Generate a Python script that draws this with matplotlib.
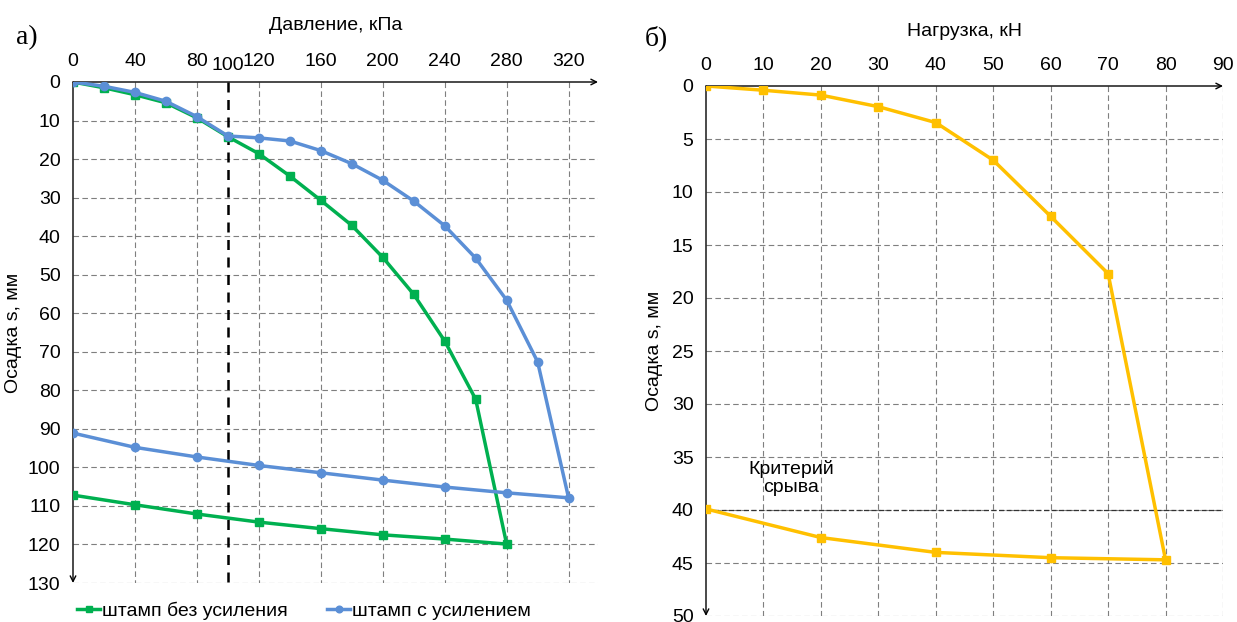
import numpy as np
import matplotlib.pyplot as plt

plt.rcParams['font.family'] = ['Liberation Sans', 'DejaVu Sans']

# panel a: pressure (kPa) vs settlement (mm)
p_plain = [0, 20, 40, 60, 80, 100, 120, 140, 160, 180, 200, 220, 240, 260, 280,
           240, 200, 160, 120, 80, 40, 0]
s_plain = [0, 1.5, 3.3, 5.4, 9.3, 14.2, 18.6, 24.4, 30.7, 37.2, 45.5, 55.1, 67.2, 82.3, 119.9,
           118.6, 117.5, 115.9, 114.2, 112.1, 109.7, 107.2]

p_reinf = [0, 20, 40, 60, 80, 100, 120, 140, 160, 180, 200, 220, 240, 260, 280, 300, 320,
           280, 240, 200, 160, 120, 80, 40, 0]
s_reinf = [0, 1.1, 2.7, 5.0, 9.0, 14.0, 14.5, 15.3, 17.8, 21.2, 25.5, 30.9, 37.3, 45.7, 56.6, 72.6, 107.9,
           106.6, 105.1, 103.3, 101.4, 99.5, 97.3, 94.8, 91.1]

# panel b: load (kN) vs settlement (mm)
load = [0, 10, 20, 30, 40, 50, 60, 70, 80, 60, 40, 20, 0]
s_load = [0, 0.4, 0.86, 1.95, 3.45, 7.0, 12.3, 17.7, 44.7, 44.5, 44.0, 42.6, 39.9]

green = '#00b050'
blue = '#5b8fd6'
yellow = '#ffc000'
grid_kw = dict(color='#7f7f7f', linestyle=(0, (5, 3)), linewidth=0.8)

fig = plt.figure(figsize=(12.37, 6.22), dpi=100)


def setup(ax, xmax, ymax, xticks, yticks):
    ax.set_xlim(0, xmax)
    ax.set_ylim(ymax, 0)
    for s in ax.spines.values():
        s.set_visible(False)
    ax.xaxis.tick_top()
    ax.set_xticks(xticks)
    ax.set_yticks(yticks)
    ax.tick_params(length=0, labelsize=14, pad=9)
    for x in xticks[1:]:
        ax.plot([x, x], [0, ymax], zorder=1, **grid_kw)
    for y in yticks[1:]:
        ax.plot([0, xmax], [y, y], zorder=1, **grid_kw)
    # axis arrows
    ax.annotate('', xy=(xmax, 0), xytext=(0, 0), annotation_clip=False,
                arrowprops=dict(arrowstyle='->', color='black', lw=1.0, shrinkA=0, shrinkB=0))
    ax.annotate('', xy=(0, ymax), xytext=(0, 0), annotation_clip=False,
                arrowprops=dict(arrowstyle='->', color='black', lw=1.0, shrinkA=0, shrinkB=0))


# left panel
ax1 = fig.add_axes([73 / 1237, 1 - 583 / 622, (598 - 73) / 1237, (583 - 82) / 622])
setup(ax1, 339, 130, list(range(0, 321, 40)), list(range(0, 131, 10)))
ax1.plot([100, 100], [0, 130], color='black', linestyle=(0, (4, 3)), linewidth=1.8, zorder=2)
ax1.text(100, -4.4, '100', ha='center', va='center', fontsize=14)
ax1.plot(p_plain, s_plain, color=green, lw=2.5, marker='s', ms=6, zorder=3,
         label='штамп без усиления')
ax1.plot(p_reinf, s_reinf, color=blue, lw=2.5, marker='o', ms=6, zorder=3,
         label='штамп с усилением')
ax1.set_xlabel('Давление, кПа', fontsize=14, labelpad=16)
ax1.xaxis.set_label_position('top')
ax1.set_ylabel('Осадка s, мм', fontsize=14, labelpad=4)
ax1.legend(loc='upper center', bbox_to_anchor=(0.44, -0.002), ncol=2, frameon=False,
           fontsize=14, handlelength=1.2, handletextpad=0.1, columnspacing=2.0,
           markerscale=0.8)
fig.text(16 / 1237, 1 - 38 / 622, 'а)', family='Liberation Serif', fontsize=20, va='center')

# right panel
ax2 = fig.add_axes([706 / 1237, 1 - 616 / 622, (1223 - 706) / 1237, (616 - 86) / 622])
setup(ax2, 90, 50, list(range(0, 91, 10)), list(range(0, 51, 5)))
ax2.plot([0, 90], [40, 40], color='#333333', linestyle=(0, (4, 2)), linewidth=0.9, zorder=2)
ax2.plot(load, s_load, color=yellow, lw=2.5, marker='s', ms=6, zorder=3)
ax2.text(14.8, 37, 'Критерий\nсрыва', ha='center', va='center', fontsize=14, linespacing=1.1)
ax2.set_xlabel('Нагрузка, кН', fontsize=14, labelpad=15)
ax2.xaxis.set_label_position('top')
ax2.set_ylabel('Осадка s, мм', fontsize=14, labelpad=6)
fig.text(645 / 1237, 1 - 38 / 622, 'б)', family='Liberation Serif', fontsize=20, va='center')

fig.savefig('out.png', dpi=100)
